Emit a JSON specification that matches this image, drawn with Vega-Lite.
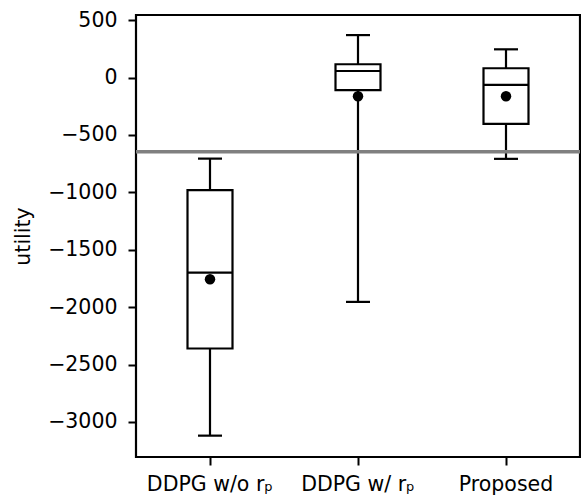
{
  "$schema": "https://vega.github.io/schema/vega-lite/v6.json",
  "autosize": "none",
  "width": 444,
  "height": 442,
  "padding": {"left": 136, "top": 15, "right": 1, "bottom": 40},
  "background": "white",
  "config": {
    "view": {"stroke": "black", "strokeWidth": 2.2},
    "font": "DejaVu Sans",
    "axis": {
      "labelFont": "DejaVu Sans",
      "titleFont": "DejaVu Sans",
      "labelFontSize": 20.5,
      "titleFontSize": 20.5,
      "titleFontWeight": "normal",
      "labelColor": "black",
      "titleColor": "black",
      "tickColor": "black",
      "tickWidth": 2,
      "tickSize": 8,
      "domain": false,
      "grid": false
    }
  },
  "datasets": {
    "boxes": [
      {"cat": "DDPG w/o rₚ", "lo": -3119, "q1": -2360, "med": -1699, "q3": -980, "hi": -706, "mean": -1757},
      {"cat": "DDPG w/ rₚ", "lo": -1954, "q1": -110, "med": 57, "q3": 116, "hi": 370, "mean": -163},
      {"cat": "Proposed", "lo": -708, "q1": -403, "med": -64, "q3": 81, "hi": 246, "mean": -163}
    ],
    "ref": [{"v": -647}]
  },
  "layer": [
    {
      "data": {"name": "boxes"},
      "mark": {"type": "rule", "color": "black", "strokeWidth": 2.2},
      "encoding": {
        "x": {"field": "cat", "type": "nominal", "sort": null,
              "scale": {"type": "band", "paddingInner": 0, "paddingOuter": 0},
              "axis": {"title": null, "labelAngle": 0, "labelPadding": 9}},
        "y": {"field": "lo", "type": "quantitative",
              "scale": {"domain": [-3305, 545], "nice": false, "zero": false},
              "axis": {"title": "utility", "values": [500, 0, -500, -1000, -1500, -2000, -2500, -3000],
                       "labelExpr": "replace(format(datum.value, 'd'), '-', '−')",
                       "labelPadding": 11, "titlePadding": 14}},
        "y2": {"field": "hi"}
      }
    },
    {
      "data": {"name": "boxes"},
      "mark": {"type": "bar", "size": 45, "fill": "white", "stroke": "black", "strokeWidth": 2.2},
      "encoding": {
        "x": {"field": "cat", "type": "nominal", "sort": null},
        "y": {"field": "q1", "type": "quantitative"},
        "y2": {"field": "q3"}
      }
    },
    {
      "data": {"name": "boxes"},
      "mark": {"type": "tick", "size": 45, "thickness": 2.2, "color": "black", "opacity": 1},
      "encoding": {
        "x": {"field": "cat", "type": "nominal", "sort": null},
        "y": {"field": "med", "type": "quantitative"}
      }
    },
    {
      "data": {"name": "boxes"},
      "mark": {"type": "tick", "size": 24, "thickness": 2.2, "color": "black", "opacity": 1},
      "encoding": {
        "x": {"field": "cat", "type": "nominal", "sort": null},
        "y": {"field": "lo", "type": "quantitative"}
      }
    },
    {
      "data": {"name": "boxes"},
      "mark": {"type": "tick", "size": 24, "thickness": 2.2, "color": "black", "opacity": 1},
      "encoding": {
        "x": {"field": "cat", "type": "nominal", "sort": null},
        "y": {"field": "hi", "type": "quantitative"}
      }
    },
    {
      "data": {"name": "boxes"},
      "mark": {"type": "point", "filled": true, "shape": "circle", "size": 110, "color": "black", "opacity": 1},
      "encoding": {
        "x": {"field": "cat", "type": "nominal", "sort": null},
        "y": {"field": "mean", "type": "quantitative"}
      }
    },
    {
      "data": {"name": "ref"},
      "mark": {"type": "rule", "color": "#808080", "strokeWidth": 3.5},
      "encoding": {
        "y": {"field": "v", "type": "quantitative"}
      }
    }
  ]
}
